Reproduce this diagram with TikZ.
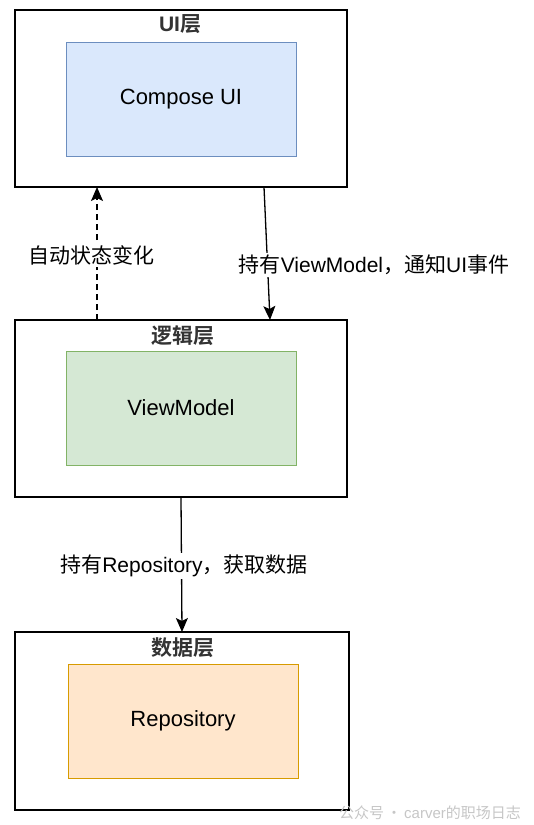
\documentclass[tikz,border=0pt]{standalone}
\usepackage{fontspec}
\setmainfont{Liberation Sans}
\newfontfamily\cjk[BoldFont={Noto Sans CJK SC Bold}]{Noto Sans CJK SC}
\usetikzlibrary{arrows.meta}

\definecolor{uifill}{HTML}{DAE8FC}
\definecolor{uiline}{HTML}{6C8EBF}
\definecolor{vmfill}{HTML}{D5E8D4}
\definecolor{vmline}{HTML}{82B366}
\definecolor{repofill}{HTML}{FFE6CC}
\definecolor{repoline}{HTML}{D79B00}
\definecolor{titlegray}{HTML}{333333}

\begin{document}
\begin{tikzpicture}[x=1pt, y=-1pt]
\tikzset{ >={Stealth[length=14pt, width=12pt, inset=3pt]}, inner sep=0pt, outer sep=0pt,
  layer/.style={draw, line width=2pt, minimum width=332pt, minimum height=177pt},
  part/.style={draw, line width=1pt, minimum width=230pt, minimum height=114pt,
    font=\fontsize{22}{26}\selectfont},
  title/.style={font=\fontsize{21}{25}\selectfont\bfseries, text=titlegray},
  lbl/.style={fill=white, inner sep=2pt, font=\fontsize{21}{25}\selectfont},
  }

\useasboundingbox (0,0) rectangle (534,825);

%\draw [lightgray, dashed](0,0) grid[step=50pt] (534,825);

% three layers
\node [layer] (ui)    at (181,98.5)  {};
\node [layer] (logic) at (181,408.5) {};
\node [layer, minimum width=334pt, minimum height=178pt] (data) at (182,721) {};

\node [title] (uititle)    at (180,24)  {UI{\cjk 层}};
\node [title] (logictitle) at (183,336) {\cjk 逻辑层};
\node [title] (datatitle)  at (183,648) {\cjk 数据层};

\node [part, fill=uifill, draw=uiline]     (compose) at (181,99)  {\raisebox{-2pt}{Compose UI}};
\node [part, fill=vmfill, draw=vmline]     (vm)      at (181,408) {\raisebox{-2pt}{ViewModel}};
\node [part, fill=repofill, draw=repoline] (repo)    at (183,721) {\raisebox{-2pt}{Repository}};

\draw [->, line width=1.3pt, dashed, dash pattern=on 6pt off 4pt]
  ([xshift=82pt]logic.north west) -- ([xshift=82pt]ui.south west);
\draw [->, line width=1.3pt] ([xshift=249pt]ui.south west) -- ([xshift=255pt]logic.north west);
\draw [->, line width=1.3pt] ([xshift=166pt]logic.south west) -- ([xshift=167pt]data.north west);

\node [lbl] (statelbl) at (91,255)  {\cjk 自动状态变化};
\node [lbl] (vmlbl)    at (374,265) {{\cjk 持有}ViewModel{\cjk ，通知}UI{\cjk 事件}};
\node [lbl] (repolbl)  at (184,566) {{\cjk 持有}Repository{\cjk ，获取数据}};

\node [text=gray!45, font=\fontsize{15}{18}\selectfont] (mark) at (430,813)
  {{\cjk 公众号\,·\,}carver{\cjk 的职场日志}};

\end{tikzpicture}
\end{document}
